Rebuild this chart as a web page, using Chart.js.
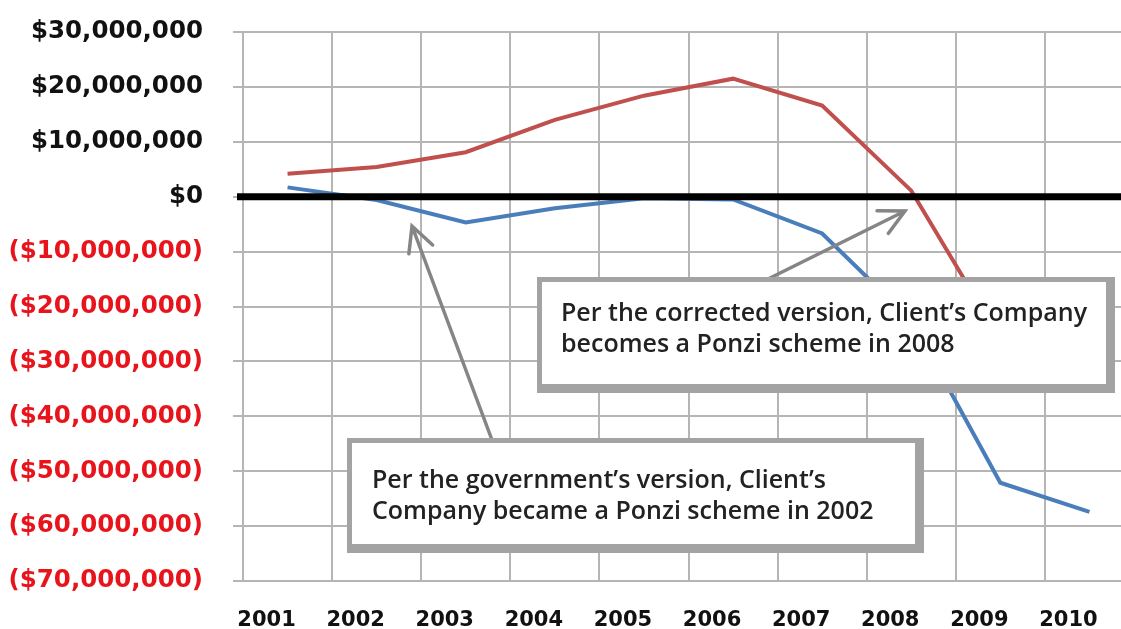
<!DOCTYPE html>
<html>
<head>
<meta charset="utf-8">
<script src="https://cdn.jsdelivr.net/npm/chart.js@4.4.1/dist/chart.umd.min.js"></script>
<style>
  body { margin: 0; background: #fff; overflow: hidden; }
  #wrap { width: 1136px; height: 629px; }
</style>
</head>
<body>
<div id="wrap"><canvas id="ponziChart"></canvas></div>
<script>
// Data
const years = ["2001", "2002", "2003", "2004", "2005", "2006", "2007", "2008", "2009", "2010"];
const correctedVersion = [4200000, 5400000, 8100000, 14000000, 18400000, 21500000, 16600000, 1100000, -26000000, -33000000];
const governmentVersion = [1700000, -600000, -4700000, -2100000, -300000, -500000, -6700000, -22500000, -52100000, -57400000];
const yTickValues = [30000000, 20000000, 10000000, 0, -10000000, -20000000, -30000000, -40000000, -50000000, -60000000, -70000000];

// Money format, negatives in brackets
function formatMoney(v) {
  const s = "$" + Math.abs(v).toString().replace(/\B(?=(\d{3})+(?!\d))/g, ",");
  return v < 0 ? "(" + s + ")" : s;
}

// Thick zero line, arrows and the two note boxes
const notesPlugin = {
  id: "notes",
  afterDatasetsDraw(chart) {
    const ctx = chart.ctx;
    const y0 = chart.scales.y.getPixelForValue(0);

    ctx.save();
    ctx.strokeStyle = "#000";
    ctx.lineWidth = 7;
    ctx.beginPath();
    ctx.moveTo(chart.chartArea.left - 6, y0);
    ctx.lineTo(chart.width, y0);
    ctx.stroke();

    drawArrow(ctx, 768, 279, 905, 211);
    drawArrow(ctx, 492, 440, 412, 226);

    drawBox(ctx, 537, 277, 574, 112, [
      "Per the corrected version, Client\u2019s Company",
      "becomes a Ponzi scheme in 2008"
    ], 561, 321);
    drawBox(ctx, 347, 438, 573, 111, [
      "Per the government\u2019s version, Client\u2019s",
      "Company became a Ponzi scheme in 2002"
    ], 372, 488);
    ctx.restore();
  }
};

function drawArrow(ctx, x1, y1, x2, y2) {
  const ang = Math.atan2(y1 - y2, x1 - x2);
  const len = 28, spread = 0.47;
  ctx.strokeStyle = "#858585";
  ctx.lineWidth = 3.5;
  ctx.lineCap = "round";
  ctx.beginPath();
  ctx.moveTo(x1, y1);
  ctx.lineTo(x2, y2);
  ctx.moveTo(x2 + len * Math.cos(ang - spread), y2 + len * Math.sin(ang - spread));
  ctx.lineTo(x2, y2);
  ctx.lineTo(x2 + len * Math.cos(ang + spread), y2 + len * Math.sin(ang + spread));
  ctx.stroke();
}

function drawBox(ctx, x, y, w, h, lines, tx, ty) {
  ctx.fillStyle = "#a3a3a3";
  ctx.fillRect(x, y, w + 4, h + 4);
  ctx.fillStyle = "#fff";
  ctx.fillRect(x + 5, y + 5, w - 10, h - 10);
  ctx.fillStyle = "#222";
  ctx.font = "600 25px 'Open Sans'";
  ctx.textBaseline = "alphabetic";
  ctx.textAlign = "left";
  lines.forEach((line, i) => ctx.fillText(line, tx, ty + i * 31));
}

new Chart(document.getElementById("ponziChart").getContext("2d"), {
  type: "line",
  data: {
    labels: years,
    datasets: [
      {
        label: "Corrected version",
        data: correctedVersion,
        borderColor: "#c0504d",
        borderWidth: 4,
        pointRadius: 0,
        tension: 0,
      },
      {
        label: "Government's version",
        data: governmentVersion,
        borderColor: "#4a7ebb",
        borderWidth: 4,
        pointRadius: 0,
        tension: 0,
      },
    ],
  },
  options: {
    responsive: true,
    maintainAspectRatio: false,
    animation: false,
    layout: { padding: { top: 32, right: 2, left: 0, bottom: 0 } },
    plugins: {
      legend: { display: false },
      tooltip: { enabled: false },
    },
    scales: {
      x: {
        offset: true,
        grid: { offset: true, color: "#b5b5b5", lineWidth: 2, drawTicks: false },
        border: { color: "#b5b5b5", width: 2 },
        ticks: {
          color: "#111",
          font: { family: "DejaVu Sans", size: 21, weight: "bold" },
          padding: 27,
          labelOffset: -21,
          maxRotation: 0,
        },
        afterFit: (scale) => {
          scale.height = 48;
          scale.paddingLeft = 0;
          scale.paddingRight = 0;
        },
      },
      y: {
        min: -70000000,
        max: 30000000,
        afterBuildTicks: (scale) => { scale.ticks = yTickValues.map((v) => ({ value: v })); },
        grid: { color: "#b5b5b5", lineWidth: 2, tickLength: 10 },
        border: { color: "#b5b5b5", width: 2 },
        ticks: {
          padding: 30,
          font: { family: "DejaVu Sans", size: 24.5, weight: "bold" },
          color: (c) => (c.tick && c.tick.value < 0 ? "#e8141c" : "#111"),
          callback: (v) => formatMoney(v),
        },
        afterFit: (scale) => {
          scale.width = 243;
          scale.paddingTop = 0;
          scale.paddingBottom = 0;
        },
      },
    },
  },
  plugins: [notesPlugin],
});
</script>
</body>
</html>
